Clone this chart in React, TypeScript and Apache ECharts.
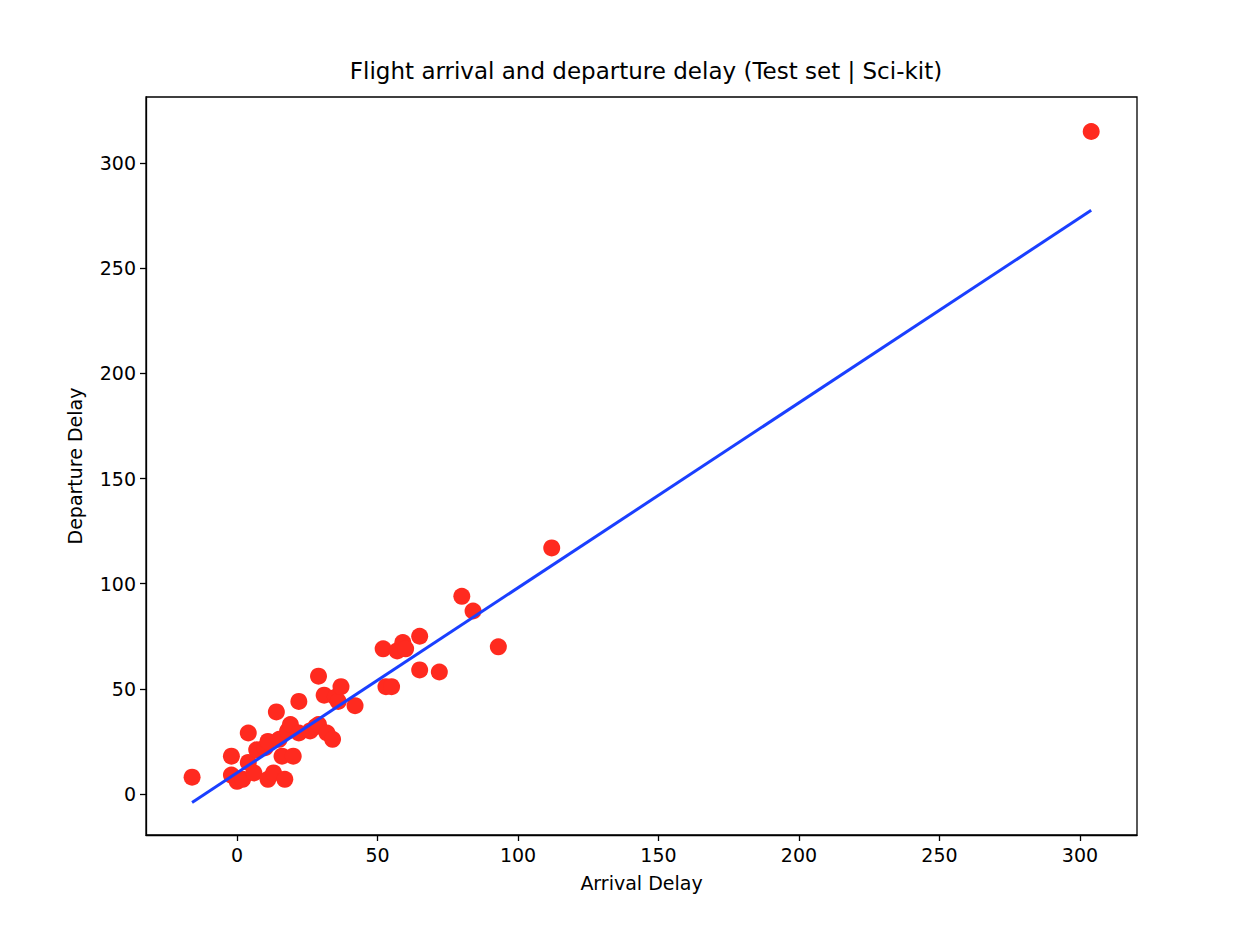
import { useEffect, useRef } from 'react'
import * as echarts from 'echarts'

const arrivalDelay = [-16, -2, -2, 0, 2, 4, 4, 6, 7, 10, 11, 11, 13, 14, 15, 16, 17, 18, 19, 20, 22, 22, 26, 28, 29, 29, 31, 32, 34, 35, 36, 37, 42, 52, 53, 55, 57, 59, 60, 65, 65, 72, 80, 84, 93, 112, 304]
const departureDelay = [8, 18, 9, 6, 7, 29, 15, 10, 21, 22, 25, 7, 10, 39, 26, 18, 7, 30, 33, 18, 44, 29, 30, 32, 56, 33, 47, 29, 26, 46, 44, 51, 42, 69, 51, 51, 68, 72, 69, 75, 59, 58, 94, 87, 70, 117, 315]
const fitLine = [[-16, -4], [304, 277.5]]
const tickValues = [0, 50, 100, 150, 200, 250, 300]

const font = 'DejaVu Sans'

export default function App() {
  const chartRef = useRef<HTMLDivElement>(null)

  useEffect(() => {
    if (!chartRef.current) return
    const chart = echarts.init(chartRef.current, undefined, { renderer: 'svg' })
    const axisCommon = {
      axisLine: { onZero: false, lineStyle: { color: '#000', width: 1.3 } },
      axisTick: { inside: false, length: 6, customValues: tickValues, lineStyle: { color: '#000', width: 1.3 } },
      axisLabel: { color: '#000', fontSize: 19, fontFamily: font, margin: 10, customValues: tickValues },
      splitLine: { show: false },
      nameTextStyle: { color: '#000', fontSize: 19, fontFamily: font },
      nameLocation: 'middle' as const,
    }
    chart.setOption({
      animation: false,
      title: {
        text: 'Flight arrival and departure delay (Test set | Sci-kit)',
        left: 641,
        textAlign: 'center',
        top: 54,
        textStyle: { color: '#000', fontSize: 23, fontWeight: 'normal', fontFamily: font },
      },
      grid: { left: 146, right: 101, top: 97, bottom: 105, show: true, borderColor: '#000', borderWidth: 1.3 },
      xAxis: {
        ...axisCommon,
        type: 'value',
        min: -32.4,
        max: 320.3,
        name: 'Arrival Delay',
        nameGap: 38,
      },
      yAxis: {
        ...axisCommon,
        type: 'value',
        min: -19.5,
        max: 331.4,
        name: 'Departure Delay',
        nameGap: 62,
      },
      series: [
        {
          type: 'scatter',
          symbolSize: 17,
          itemStyle: { color: '#ff2a1f', opacity: 1 },
          data: arrivalDelay.map((x, i) => [x, departureDelay[i]]),
          z: 2,
        },
        {
          type: 'line',
          data: fitLine,
          symbol: 'none',
          lineStyle: { color: '#1a3fff', width: 3 },
          z: 3,
        },
      ],
    })
    return () => chart.dispose()
  }, [])

  return <div ref={chartRef} style={{ position: 'absolute', left: 0, top: 0, width: 1238, height: 940 }} />
}
